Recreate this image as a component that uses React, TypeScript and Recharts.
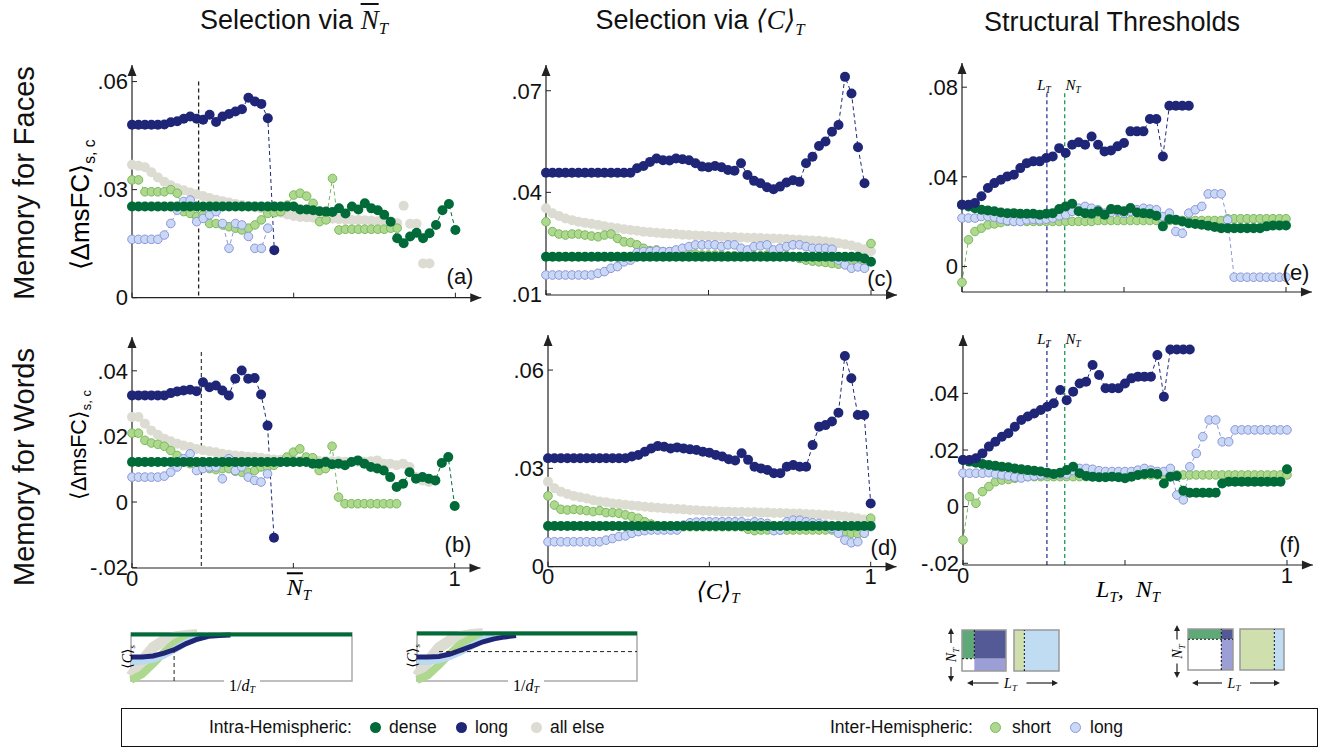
import React from 'react'
import { ComposedChart, Line, XAxis, YAxis, ReferenceLine, ReferenceDot, ReferenceArea } from 'recharts'

const SANS = '"Liberation Sans", Arial, Helvetica, sans-serif'
const SERIF = '"Liberation Serif", "DejaVu Serif", "Times New Roman", serif'

const COL = {
  dense: '#006b38',
  long: '#1f2677',
  allElse: '#dcdcd2',
  shortFill: '#aed88e',
  shortEdge: '#79b85e',
  ilongFill: '#c9d8f4',
  ilongEdge: '#8d95d9',
}

// threshold grid shared by the six panels
const xs = [0, .02, .04, .06, .08, .1, .12, .14, .16, .18, .2, .22, .24, .26, .28, .3, .32, .34, .36, .38, .4, .42, .44, .46, .48, .5,
  .52, .54, .56, .58, .6, .62, .64, .66, .68, .7, .72, .74, .76, .78, .8, .82, .84, .86, .88, .9, .92, .94, .96, .98, 1]

// (a) faces, selection via mean N_T
const aDense = [.0253, .0253, .0253, .0253, .0253, .0253, .0253, .0253, .0253, .0253,
  .0253, .0253, .0253, .0253, .0253, .0253, .0253, .0253, .0253, .0253,
  .0253, .0253, .0253, .0253, .0253, .0253, .0245, .0245, .0243, .024,
  .0239, .0238, .0248, .0234, .0253, .0245, .0262, .0248, .0243, .023,
  .0211, .0165, .0151, .017, .018, .0165, .0179, .0202, .0243, .026, .0188]
const aLong = [.048, .048, .048, .048, .048, .0481, .0487, .049, .0497, .0503,
  .0497, .0494, .0508, .0488, .0503, .051, .0517, .0523, .0555, .0545, .0538, .0498, .0132]
const aAllElse = [.0369, .0366, .0362, .0348, .0334, .0322, .0312, .0304, .0298, .0292,
  .0287, .0282, .0277, .0272, .0268, .0264, .026, .0257, .0254, .0251,
  .0248, .0244, .024, .0236, .0231, .0227, .0224, .0223, .0222, .0221,
  .022, .0219, .0218, .0217, .0216, .0216, .0215, .0214, .0212, .021,
  .0208, .0207, .0255, .0205, .0205, .0095, .0095]
const aShort = [.0327, .0327, .0294, .0294, .0294, .0294, .03, .029, .0239, .0234,
  .0225, .023, .0206, .0206, .0202, .0197, .0193, .0188, .0193, .0202,
  .0216, .0234, .0236, .0239, .0257, .0285, .029, .0282, .0262, .0211,
  .0216, .0331, .0188, .019, .019, .019, .019, .019, .019, .019, .0193, .0193]
const aInterLong = [.0162, .0162, .0162, .0162, .0162, .0174, .0206, .0243, .0267, .0271,
  .0211, .022, .023, .0239, .0206, .0137, .0206, .0202, .017, .0137, .0137, .0193]

// (b) words, selection via mean N_T
const bDense = [.0122, .0122, .0122, .0122, .0122, .0122, .0122, .0122, .0122, .0122,
  .0122, .0122, .0122, .0122, .0122, .0122, .0122, .0122, .0122, .0122,
  .0122, .0122, .0122, .0122, .0122, .0122, .0122, .0122, .0117, .0117,
  .0122, .0115, .0117, .0112, .0122, .0127, .0117, .0107, .0102, .0096,
  .0076, .0046, .0056, .0091, .0071, .0076, .0071, .0066, .0119, .0137, -.0012]
const bLong = [.0325, .0325, .0325, .0325, .0325, .0325, .0332, .0337, .034, .0342,
  .0338, .0365, .035, .0355, .034, .0325, .0376, .0401, .0376, .0378, .0328, .0233, -.0109]
const bAllElse = [.0259, .0259, .0239, .0218, .0205, .0193, .0185, .0178, .0172, .0168,
  .0162, .0158, .0155, .0152, .0147, .0144, .0142, .014, .0138, .0137,
  .0135, .0132, .013, .0129, .0128, .0127, .0126, .0126, .0125, .0125,
  .0125, .0124, .0124, .0123, .0123, .0123, .0123, .0124, .0127, .0117,
  .0117, .0112, .0117, .0107, .0076, .0066, .0061, .0066]
const bShort = [.021, .021, .0188, .018, .0176, .017, .0157, .0142, .0127, .0117,
  .0112, .0107, .0102, .0099, .0102, .0102, .0094, .0091, .0091, .0096,
  .0107, .0107, .0112, .0122, .0137, .0152, .0162, .0137, .0135, .0096,
  .0102, .017, .0015, -.0005, -.0005, -.0005, -.0005, -.0005, -.0005, -.0005, -.0005, -.0005]
const bInterLong = [.0076, .0076, .0076, .0076, .0076, .0079, .0091, .0107, .0132, .0147,
  .0096, .0102, .0107, .0107, .0071, .0132, .0096, .0107, .0076, .0066, .0061, .0086]

// (c) faces, selection via <C>_T
const cDense = [.021, .021, .021, .021, .021, .021, .021, .021, .021, .021,
  .021, .021, .021, .021, .021, .021, .021, .021, .021, .021,
  .021, .021, .021, .021, .021, .021, .021, .021, .021, .021,
  .021, .021, .021, .021, .021, .021, .021, .021, .021, .021,
  .021, .021, .021, .021, .021, .021, .021, .021, .021, .0205, .0195]
const cLong = [.0458, .0458, .0458, .0458, .0458, .0458, .0458, .0458, .0458, .0458,
  .0458, .0458, .0458, .0458, .0471, .0478, .049, .05, .0495, .0494,
  .05, .0498, .0495, .0486, .0476, .0474, .0478, .0474, .0466, .0464,
  .0486, .0451, .0434, .0427, .0415, .0409, .0417, .0429, .0436, .0431,
  .0486, .0505, .0537, .055, .0579, .0599, .0741, .0692, .0533, .0427]
const cAllElse = [.0353, .0338, .033, .0323, .0318, .0313, .031, .0307, .0304, .03,
  .0297, .0294, .0291, .0289, .0287, .0284, .0282, .0281, .0279, .0278,
  .0277, .0275, .0274, .0273, .0272, .0271, .027, .0269, .0268, .0268,
  .0267, .0266, .0266, .0265, .0264, .0264, .0263, .0262, .0261, .026,
  .0259, .0258, .0257, .0255, .0253, .025, .0247, .0243, .0238, .0232, .0226]
const cShort = [.0313, .0284, .0277, .0274, .0277, .0277, .0274, .0271, .0269, .0274,
  .0277, .0264, .0254, .0252, .0245, .0235, .0228, .023, .0225, .0225,
  .0222, .0225, .022, .0218, .0215, .0215, .0215, .0215, .0213, .0213,
  .0215, .0215, .0213, .0213, .0215, .0215, .0213, .0213, .021, .0205,
  .02, .0197, .0195, .0193, .019, .0188, .019, .0188, .0188, .0186, .0249]
const cInterLong = [.0156, .0156, .0156, .0156, .0156, .0156, .0156, .0156, .0161, .0166,
  .0176, .0181, .0195, .02, .0222, .0225, .0225, .0228, .0225, .0225,
  .023, .0235, .024, .0245, .0245, .0245, .0245, .024, .0245, .0245,
  .0235, .023, .024, .0242, .0245, .023, .0235, .024, .0245, .0245,
  .024, .0235, .0235, .0235, .0232, .02, .0186, .0176, .018, .0176]

// (d) words, selection via <C>_T
const dDense = [.0124, .0124, .0124, .0124, .0124, .0124, .0124, .0124, .0124, .0124,
  .0124, .0124, .0124, .0124, .0124, .0124, .0124, .0124, .0124, .0124,
  .0124, .0124, .0124, .0124, .0124, .0124, .0124, .0124, .0124, .0124,
  .0124, .0124, .0124, .0124, .0124, .0124, .0124, .0124, .0124, .0124,
  .0124, .0124, .0124, .0124, .0124, .0124, .0124, .0124, .0124, .0124, .0124]
const dLong = [.0331, .0331, .0331, .0331, .0331, .0331, .0331, .0331, .0331, .0331,
  .0331, .0331, .0331, .0336, .0341, .0351, .0361, .0368, .0366, .0361,
  .0364, .0361, .0358, .0356, .0351, .0348, .0341, .0336, .0328, .0324,
  .0346, .0326, .0305, .03, .0295, .0285, .0285, .0305, .031, .0305,
  .0305, .0371, .0427, .0432, .0443, .047, .0643, .0575, .0463, .0463, .0193]
const dAllElse = [.0259, .0239, .0229, .0222, .0216, .0212, .0208, .0203, .0199, .0197,
  .0193, .0191, .0189, .0187, .0185, .0183, .0181, .018, .0178, .0177,
  .0176, .0175, .0173, .0172, .0171, .017, .0169, .0168, .0168, .0167,
  .0167, .0166, .0166, .0165, .0165, .0164, .0164, .0163, .0162, .0162,
  .0161, .016, .0159, .0158, .0157, .0155, .0153, .0151, .0148, .0144, .0137]
const dShort = [.0216, .0188, .0175, .0173, .0175, .0173, .0171, .0168, .0171, .0165,
  .0165, .0163, .0158, .0153, .0148, .0137, .013, .0122, .0122, .0122,
  .0122, .0122, .0122, .0122, .0122, .0122, .0122, .0122, .0122, .0122,
  .0122, .0114, .011, .0112, .0112, .0112, .0112, .0112, .0112, .0112,
  .0112, .0112, .0112, .0112, .0112, .0112, .0107, .0102, .01, .0102, .0148]
const dInterLong = [.0076, .0076, .0076, .0076, .0076, .0076, .0076, .0076, .0076, .0081,
  .0086, .0092, .0094, .0102, .0107, .011, .0112, .0112, .0112, .0112,
  .0112, .0127, .0134, .0136, .0137, .0137, .0137, .0137, .0137, .0137,
  .0137, .0132, .0137, .0134, .0132, .011, .0112, .0137, .0142, .0142,
  .0137, .0134, .0132, .0127, .0117, .0102, .0081, .0073, .0076, .0102, .0122]

// (e) faces, structural thresholds
const eDense = [.0275, .0268, .026, .0253, .025, .0246, .0241, .0238, .0238, .0235,
  .0235, .0235, .0231, .0235, .0238, .0256, .0268, .028, .0246, .0238,
  .0235, .0246, .0231, .0256, .0253, .0246, .0261, .0241, .0238, .0235,
  .0226, .0179, .0211, .0208, .0201, .0193, .019, .0186, .0182, .0176,
  .0171, .0171, .0171, .0171, .0171, .0171, .0171, .0179, .0183, .0183, .0183]
const eLong = [.0275, .0275, .0283, .0313, .035, .0372, .0387, .0402, .0409, .0439,
  .0461, .0469, .0469, .0484, .0491, .0528, .0506, .0543, .0554, .0543,
  .058, .0543, .0513, .0518, .0536, .0551, .0603, .0603, .0603, .0658,
  .0658, .0491, .0717, .0717, .0717, .0717]
const eAllElse: (number | null)[] = []
const eShort = [-.0071, .0119, .0156, .0171, .0186, .019, .0196, .0201, .0201, .0201,
  .0201, .0201, .0201, .0201, .0201, .0201, .0201, .0201, .0201, .0201,
  .0201, .0205, .0205, .0205, .0205, .0205, .0205, .0205, .0205, .0205,
  .0205, .0205, .0205, .0205, .0205, .0205, .0205, .0205, .0205, .0205,
  .0205, .0213, .0213, .0213, .0213, .0213, .0213, .0213, .0213, .0213, .0213]
const eInterLong = [.0216, .0216, .0216, .0223, .0223, .022, .0211, .0205, .0201, .0201,
  .0208, .0211, .0208, .0211, .0216, .0226, .0231, .0246, .026, .0268,
  .026, .0253, .0238, .0241, .0246, .0238, .0246, .0253, .026, .0256,
  .0253, .0223, .0238, .0156, .0148, .0238, .0253, .0268, .0324, .0324,
  .0324, .0208, -.0048, -.0048, -.0048, -.0048, -.0048, -.0048, -.0048, -.0048, -.0048]

// (f) words, structural thresholds
const fDense = [.0165, .0159, .0155, .0151, .0147, .0144, .0141, .0139, .0135, .0132,
  .0129, .0127, .0124, .012, .0115, .012, .0129, .0141, .0118, .0108,
  .0106, .0104, .0104, .0106, .0104, .01, .0106, .0112, .0115, .0118,
  .0115, .0082, .0106, .0108, .0056, .0049, .0049, .0049, .0049, .0049,
  .0082, .0088, .0088, .0088, .0088, .0088, .0088, .0088, .0088, .0088, .0132]
const fLong = [.0165, .0165, .0171, .0188, .0212, .0229, .0247, .0259, .0282, .0306,
  .0318, .0329, .0341, .0353, .0365, .0412, .0376, .0406, .0435, .0441,
  .05, .0465, .0418, .0418, .0418, .0435, .0453, .0459, .0459, .0459,
  .0535, .0388, .0555, .0555, .0555, .0555]
const fAllElse: (number | null)[] = []
const fShort = [-.0118, .0035, .0012, .0053, .0071, .0088, .0094, .0096, .01, .0106,
  .0106, .0106, .0106, .0106, .0106, .0106, .0106, .0106, .0106, .0106,
  .0106, .0112, .0112, .0112, .0112, .0112, .0112, .0112, .0112, .0112,
  .0112, .0112, .0112, .0112, .0112, .0112, .0112, .0112, .0112, .0112,
  .0112, .0112, .0112, .0112, .0112, .0112, .0112, .0112, .0112, .0112, .0112]
const fInterLong = [.0118, .0118, .0118, .0118, .012, .0115, .0112, .0108, .0104, .0101,
  .0106, .0108, .0112, .0115, .0115, .0115, .0115, .0127, .0135, .0135,
  .0132, .0127, .0124, .0124, .0124, .0124, .0124, .0129, .0135, .0129,
  .0124, .0124, .0135, .0041, .0024, .0141, .0188, .0247, .0306, .0306,
  .0229, .0229, .0271, .0271, .0271, .0271, .0271, .0271, .0271, .0271, .0271]

// schematic insets under the first two columns (<C>_s against 1/d_T)
const insetX = [0, .05, .1, .15, .2, .25, .3, .35, .4, .45, 1]
const lDense = [.97, .97, .97, .97, .97, .97, .97, .97, .97, .97, .97]
const lLong = [.5, .5, .52, .58, .66, .78, .87, .93, .95, .96, null]
const lInterLong = [.4, .41, .45, .54, .66, .8, .9, .95, null, null, null]
const lAllElse = [.1, .42, .7, .85, .92, .95, .97, null, null, null, null]
const lShort = [.02, .14, .36, .6, .8, .9, .95, null, null, null, null]
const mDense = [.97, .97, .97, .97, .97, .97, .97, .97, .97, .97, .97]
const mLong = [.49, .49, .5, .55, .63, .71, .8, .86, .9, .93, null]
const mInterLong = [.4, .4, .43, .5, .6, .72, .84, .92, null, null, null]
const mAllElse = [.1, .4, .68, .83, .91, .95, .97, null, null, null, null]
const mShort = [.02, .12, .33, .56, .76, .88, .94, null, null, null, null]

// threshold schematics (fractions of each square)
const sqFacesA = [
  { x1: 0, x2: .28, y1: .3, y2: 1, fill: '#5fa878' },
  { x1: .28, x2: 1, y1: .3, y2: 1, fill: '#535a96' },
  { x1: 0, x2: .28, y1: 0, y2: .3, fill: '#ffffff' },
  { x1: .28, x2: 1, y1: 0, y2: .3, fill: '#9c9fd6' },
]
const sqFacesADash = [{ x1: .28, y1: 1, x2: .28, y2: .3 }, { x1: 0, y1: .3, x2: .28, y2: .3 }]
const sqFacesB = [
  { x1: 0, x2: .23, y1: 0, y2: 1, fill: '#cfe0ae' },
  { x1: .23, x2: 1, y1: 0, y2: 1, fill: '#bfdcf3' },
]
const sqFacesBDash = [{ x1: .23, y1: 0, x2: .23, y2: 1 }]
const sqWordsA = [
  { x1: 0, x2: .74, y1: .75, y2: 1, fill: '#5fa878' },
  { x1: .74, x2: 1, y1: .75, y2: 1, fill: '#535a96' },
  { x1: 0, x2: .74, y1: 0, y2: .75, fill: '#ffffff' },
  { x1: .74, x2: 1, y1: 0, y2: .75, fill: '#9c9fd6' },
]
const sqWordsADash = [{ x1: 0, y1: .75, x2: 1, y2: .75 }, { x1: .74, y1: 0, x2: .74, y2: 1 }]
const sqWordsB = [
  { x1: 0, x2: .78, y1: 0, y2: 1, fill: '#cfe0ae' },
  { x1: .78, x2: 1, y1: 0, y2: 1, fill: '#bfdcf3' },
]
const sqWordsBDash = [{ x1: .78, y1: 0, x2: .78, y2: 1 }]
// corner points that span each square's unit frame
const sqFrame = [{ x: 0, y: 0 }, { x: 1, y: 1 }]

type S = (number | null)[]
type VLine = { x: number; y1: number; y2: number; color: string }

const XMAX = 1.08
const YW = 70
const MT = 12
const MR = 14
const XH = 40

const fmtY = (v: number) => (v === 0 ? '0' : (v < 0 ? '-' : '') + Math.abs(v).toFixed(2).replace(/^0/, ''))

const UpArrow = (p: any) => (
  <path d={`M${p.cx - 4.5},${p.cy + 11} L${p.cx},${p.cy} L${p.cx + 4.5},${p.cy + 11} Z`} fill="#222" />
)
const RightArrow = (p: any) => (
  <path d={`M${p.cx - 11},${p.cy - 4.5} L${p.cx},${p.cy} L${p.cx - 11},${p.cy + 4.5} Z`} fill="#222" />
)

function Panel(p: {
  x0: number; top: number; ppu: number; plotH: number; yDomain: [number, number]; yTicks: number[]
  xLabels: boolean; dense: S; long: S; allElse: S; short: S; interLong: S; vlines?: VLine[]
}) {
  const plotW = p.ppu * XMAX
  const rows = xs.map((x, i) => ({
    x,
    dense: p.dense[i] ?? null,
    long: p.long[i] ?? null,
    allElse: p.allElse[i] ?? null,
    short: p.short[i] ?? null,
    interLong: p.interLong[i] ?? null,
  }))
  const tick = { fontSize: 22, fill: '#111', fontFamily: SANS }
  const ax = { stroke: '#222', strokeWidth: 1.2 }
  return (
    <div style={{ position: 'absolute', left: p.x0 - YW, top: p.top - MT }}>
      <ComposedChart width={YW + plotW + MR} height={MT + p.plotH + XH} data={rows}
        margin={{ top: MT, right: MR, bottom: 0, left: 0 }}>
        <XAxis dataKey="x" type="number" domain={[0, XMAX]} ticks={[0, 0.5, 1]} interval={0} height={XH}
          tickFormatter={(v: number) => (p.xLabels && v !== 0.5 ? String(v) : '')}
          tickSize={-5} tickMargin={7} tick={tick} axisLine={ax} tickLine={{ stroke: '#222' }} />
        <YAxis type="number" domain={p.yDomain} ticks={p.yTicks} interval={0} width={YW} tickFormatter={fmtY}
          tickSize={-5} tickMargin={9} tick={tick} axisLine={ax} tickLine={{ stroke: '#222' }} />
        {(p.vlines || []).map((v, i) => (
          <ReferenceLine key={i} segment={[{ x: v.x, y: v.y1 }, { x: v.x, y: v.y2 }]} stroke={v.color}
            strokeDasharray="4 3" strokeWidth={1.3} ifOverflow="visible" />
        ))}
        <Line dataKey="allElse" stroke="none" isAnimationActive={false} activeDot={false}
          dot={{ r: 5, fill: COL.allElse, stroke: 'none', strokeDasharray: 'none' }} />
        <Line dataKey="short" stroke={COL.shortEdge} strokeWidth={1} strokeDasharray="4 3" isAnimationActive={false} activeDot={false}
          dot={{ r: 4.3, fill: COL.shortFill, stroke: COL.shortEdge, strokeWidth: 1, strokeDasharray: 'none' }} />
        <Line dataKey="interLong" stroke={COL.ilongEdge} strokeWidth={1} strokeDasharray="4 3" isAnimationActive={false} activeDot={false}
          dot={{ r: 4.3, fill: COL.ilongFill, stroke: COL.ilongEdge, strokeWidth: 1, strokeDasharray: 'none' }} />
        <Line dataKey="dense" stroke={COL.dense} strokeWidth={1} strokeDasharray="4 3" isAnimationActive={false} activeDot={false}
          dot={{ r: 5, fill: COL.dense, stroke: 'none', strokeDasharray: 'none' }} />
        <Line dataKey="long" stroke={COL.long} strokeWidth={1} strokeDasharray="4 3" isAnimationActive={false} activeDot={false}
          dot={{ r: 5, fill: COL.long, stroke: 'none', strokeDasharray: 'none' }} />
        <ReferenceDot x={0} y={p.yDomain[1]} r={0} ifOverflow="visible" shape={UpArrow} />
        <ReferenceDot x={XMAX} y={p.yDomain[0]} r={0} ifOverflow="visible" shape={RightArrow} />
      </ComposedChart>
    </div>
  )
}

function CurveInset(p: {
  left: number; top: number; w: number; h: number; dense: S; long: S; interLong: S; allElse: S; short: S
  vdash?: { x: number; y1: number; y2: number }; hdash?: { y: number; x1: number; x2: number }
}) {
  const rows = insetX.map((x, i) => ({
    x, dense: p.dense[i], long: p.long[i], interLong: p.interLong[i], allElse: p.allElse[i], short: p.short[i],
  }))
  const m = 6
  return (
    <div style={{ position: 'absolute', left: p.left - m, top: p.top - m }}>
      <ComposedChart width={p.w + 2 * m} height={p.h + 2 * m} data={rows} margin={{ top: m, right: m, bottom: m, left: m }}>
        <XAxis type="number" dataKey="x" domain={[0, 1]} hide />
        <YAxis type="number" domain={[0, 1]} hide />
        <ReferenceArea x1={0} x2={1} y1={0} y2={1} fill="none" stroke="#aaa" strokeWidth={1.5} />
        <Line dataKey="allElse" stroke={COL.allElse} strokeWidth={11} dot={false} activeDot={false} isAnimationActive={false} />
        <Line dataKey="short" stroke={COL.shortFill} strokeWidth={8} dot={false} activeDot={false} isAnimationActive={false} />
        <Line dataKey="interLong" stroke="#bcd9f2" strokeWidth={7} dot={false} activeDot={false} isAnimationActive={false} />
        <Line dataKey="long" stroke={COL.long} strokeWidth={5} dot={false} activeDot={false} isAnimationActive={false} />
        <Line dataKey="dense" stroke={COL.dense} strokeWidth={4} dot={false} activeDot={false} isAnimationActive={false} />
        {p.vdash && (
          <ReferenceLine segment={[{ x: p.vdash.x, y: p.vdash.y1 }, { x: p.vdash.x, y: p.vdash.y2 }]} stroke="#222" strokeDasharray="4 3" />
        )}
        {p.hdash && (
          <ReferenceLine segment={[{ x: p.hdash.x1, y: p.hdash.y }, { x: p.hdash.x2, y: p.hdash.y }]} stroke="#222" strokeDasharray="4 3" />
        )}
      </ComposedChart>
    </div>
  )
}

type Cell = { x1: number; x2: number; y1: number; y2: number; fill: string }
type Dash = { x1: number; y1: number; x2: number; y2: number }

function SquareInset(p: { left: number; top: number; w: number; h: number; cells: Cell[]; dashes: Dash[] }) {
  return (
    <div style={{ position: 'absolute', left: p.left - 1, top: p.top - 1 }}>
      <ComposedChart width={p.w + 2} height={p.h + 2} data={sqFrame} margin={{ top: 1, right: 1, bottom: 1, left: 1 }}>
        <XAxis type="number" dataKey="x" domain={[0, 1]} hide />
        <YAxis type="number" dataKey="y" domain={[0, 1]} hide />
        <Line dataKey="y" stroke="none" dot={false} activeDot={false} isAnimationActive={false} />
        {p.cells.map((c, i) => (
          <ReferenceArea key={i} x1={c.x1} x2={c.x2} y1={c.y1} y2={c.y2} fill={c.fill} fillOpacity={1} stroke="none" ifOverflow="visible" />
        ))}
        {p.dashes.map((d, i) => (
          <ReferenceLine key={'d' + i} segment={[{ x: d.x1, y: d.y1 }, { x: d.x2, y: d.y2 }]} stroke="#111" strokeDasharray="2 2" ifOverflow="visible" />
        ))}
        <ReferenceArea x1={0} x2={1} y1={0} y2={1} fill="none" stroke="#999" strokeWidth={1.5} ifOverflow="visible" />
      </ComposedChart>
    </div>
  )
}

function Arrows(p: { vx: number; vy1: number; vy2: number; hy: number; hx1: number; hx2: number }) {
  const vm = (p.vy1 + p.vy2) / 2
  const hm = (p.hx1 + p.hx2) / 2
  const head = '#222'
  return (
    <svg style={{ position: 'absolute', left: 0, top: 0, overflow: 'visible' }} width={1} height={1}>
      <line x1={p.vx} y1={p.vy1 + 4} x2={p.vx} y2={vm - 12} stroke={head} strokeWidth={1.2} />
      <path d={`M${p.vx - 3},${p.vy1 + 6} L${p.vx},${p.vy1} L${p.vx + 3},${p.vy1 + 6} Z`} fill={head} />
      <line x1={p.vx} y1={vm + 12} x2={p.vx} y2={p.vy2 - 4} stroke={head} strokeWidth={1.2} />
      <path d={`M${p.vx - 3},${p.vy2 - 6} L${p.vx},${p.vy2} L${p.vx + 3},${p.vy2 - 6} Z`} fill={head} />
      <text x={p.vx + 5} y={vm} transform={`rotate(-90 ${p.vx + 5} ${vm})`} textAnchor="middle" fontFamily={SERIF}
        fontStyle="italic" fontSize={14}>N<tspan fontSize={9} dy={3}>T</tspan></text>
      <line x1={p.hx1 + 4} y1={p.hy} x2={hm - 14} y2={p.hy} stroke={head} strokeWidth={1.2} />
      <path d={`M${p.hx1 + 6},${p.hy - 3} L${p.hx1},${p.hy} L${p.hx1 + 6},${p.hy + 3} Z`} fill={head} />
      <line x1={hm + 14} y1={p.hy} x2={p.hx2 - 4} y2={p.hy} stroke={head} strokeWidth={1.2} />
      <path d={`M${p.hx2 - 6},${p.hy - 3} L${p.hx2},${p.hy} L${p.hx2 - 6},${p.hy + 3} Z`} fill={head} />
      <text x={hm - 2} y={p.hy + 5} textAnchor="middle" fontFamily={SERIF} fontStyle="italic" fontSize={14}>
        L<tspan fontSize={9} dy={3}>T</tspan></text>
    </svg>
  )
}

const abs = (x: number, y: number, extra: React.CSSProperties = {}): React.CSSProperties => ({
  position: 'absolute', left: x, top: y, transform: 'translate(-50%,-50%)', whiteSpace: 'nowrap', ...extra,
})
const rot = (x: number, y: number, extra: React.CSSProperties = {}): React.CSSProperties => ({
  position: 'absolute', left: x, top: y, transform: 'translate(-50%,-50%) rotate(-90deg)', whiteSpace: 'nowrap', ...extra,
})
const math: React.CSSProperties = { fontFamily: SERIF, fontStyle: 'italic' }
const sub: React.CSSProperties = { fontSize: '0.62em', verticalAlign: '-0.3em' }

function Dot({ x, fill, edge }: { x: number; fill: string; edge?: string }) {
  return (
    <span style={{
      position: 'absolute', left: x - 5.5, top: 722, width: 11, height: 11, borderRadius: '50%', background: fill,
      boxSizing: 'border-box', border: edge ? `1px solid ${edge}` : 'none',
    }} />
  )
}

export default function App() {
  const title: React.CSSProperties = { fontFamily: SANS, fontSize: 27, color: '#111' }
  const rowLab: React.CSSProperties = { fontFamily: SANS, fontSize: 29, color: '#111' }
  const letter: React.CSSProperties = { fontFamily: SANS, fontSize: 22, color: '#111' }
  const leg: React.CSSProperties = { position: 'absolute', top: 717, fontFamily: SANS, fontSize: 17.5, lineHeight: '20px', color: '#111' }
  return (
    <div style={{ position: 'relative', width: 1325, height: 753, background: '#fff', overflow: 'hidden' }}>
      <style>{'body{margin:0}'}</style>

      <div style={abs(294, 22, title)}>Selection via <span style={math}><span style={{ textDecoration: 'overline' }}>N</span><span style={sub}>T</span></span></div>
      <div style={abs(700, 22, title)}>Selection via <span style={math}>⟨C⟩<span style={sub}>T</span></span></div>
      <div style={abs(1112, 22, title)}>Structural Thresholds</div>

      <div style={rot(24, 183, rowLab)}>Memory for Faces</div>
      <div style={rot(24, 467, rowLab)}>Memory for Words</div>

      <div style={rot(82, 205, { fontFamily: SANS, fontSize: 26 })}>⟨ΔmsFC⟩<span style={{ fontSize: '0.6em', verticalAlign: '-0.35em' }}>s, c</span></div>
      <div style={rot(80, 445, { fontFamily: SANS, fontSize: 21.5 })}>⟨ΔmsFC⟩<span style={{ fontSize: '0.6em', verticalAlign: '-0.35em' }}>s, c</span></div>

      <Panel x0={132.3} top={65} ppu={323.4} plotH={232.7} yDomain={[0, 0.0646]} yTicks={[0, 0.03, 0.06]} xLabels={false}
        dense={aDense} long={aLong} allElse={aAllElse} short={aShort} interLong={aInterLong}
        vlines={[{ x: 0.206, y1: 0.06, y2: 0, color: '#222' }]} />
      <Panel x0={132.3} top={336.7} ppu={322.7} plotH={231} yDomain={[-0.0201, 0.0503]} yTicks={[-0.02, 0, 0.02, 0.04]} xLabels
        dense={bDense} long={bLong} allElse={bAllElse} short={bShort} interLong={bInterLong}
        vlines={[{ x: 0.215, y1: 0.0457, y2: -0.0201, color: '#444' }]} />
      <Panel x0={546} top={65} ppu={325} plotH={230} yDomain={[0.0097, 0.0776]} yTicks={[0.01, 0.04, 0.07]} xLabels={false}
        dense={cDense} long={cLong} allElse={cAllElse} short={cShort} interLong={cInterLong} />
      <Panel x0={548.3} top={335} ppu={322.7} plotH={231.7} yDomain={[0, 0.0707]} yTicks={[0, 0.03, 0.06]} xLabels
        dense={dDense} long={dLong} allElse={dAllElse} short={dShort} interLong={dInterLong} />
      <Panel x0={961.7} top={63.3} ppu={324} plotH={229} yDomain={[-0.0114, 0.0908]} yTicks={[0, 0.04, 0.08]} xLabels={false}
        dense={eDense} long={eLong} allElse={eAllElse} short={eShort} interLong={eInterLong}
        vlines={[{ x: 0.262, y1: 0.0773, y2: -0.0114, color: '#2b3a9a' }, { x: 0.317, y1: 0.0773, y2: -0.0114, color: '#1a9a50' }]} />
      <Panel x0={962.7} top={335} ppu={324} plotH={230} yDomain={[-0.0206, 0.0606]} yTicks={[-0.02, 0, 0.02, 0.04]} xLabels
        dense={fDense} long={fLong} allElse={fAllElse} short={fShort} interLong={fInterLong}
        vlines={[{ x: 0.259, y1: 0.0574, y2: -0.0206, color: '#2b3a9a' }, { x: 0.314, y1: 0.0574, y2: -0.0206, color: '#1a9a50' }]} />

      <div style={abs(1044, 86, { ...math, fontSize: 15 })}>L<span style={sub}>T</span></div>
      <div style={abs(1073, 86, { ...math, fontSize: 15 })}>N<span style={sub}>T</span></div>
      <div style={abs(1044, 340, { ...math, fontSize: 15 })}>L<span style={sub}>T</span></div>
      <div style={abs(1073, 340, { ...math, fontSize: 15 })}>N<span style={sub}>T</span></div>

      <div style={abs(460, 277, letter)}>(a)</div>
      <div style={abs(458, 545, letter)}>(b)</div>
      <div style={abs(880, 279, letter)}>(c)</div>
      <div style={abs(884, 548, letter)}>(d)</div>
      <div style={abs(1296, 273, letter)}>(e)</div>
      <div style={abs(1290, 545, letter)}>(f)</div>

      <div style={abs(299, 589, { ...math, fontSize: 24 })}><span style={{ textDecoration: 'overline' }}>N</span><span style={sub}>T</span></div>
      <div style={abs(718, 592, { ...math, fontSize: 24 })}>⟨C⟩<span style={sub}>T</span></div>
      <div style={abs(1128, 591, { ...math, fontSize: 24 })}>L<span style={sub}>T</span>,&nbsp; N<span style={sub}>T</span></div>

      <CurveInset left={131} top={633} w={221} h={48} dense={lDense} long={lLong} interLong={lInterLong} allElse={lAllElse} short={lShort}
        vdash={{ x: 0.195, y1: 0, y2: 0.7 }} />
      <CurveInset left={417} top={632} w={220} h={49} dense={mDense} long={mLong} interLong={mInterLong} allElse={mAllElse} short={mShort}
        hdash={{ y: 0.6, x1: 0.1, x2: 1 }} />
      <div style={abs(242, 686, { fontFamily: SERIF, fontSize: 16, background: '#fff', padding: '0 5px' })}>1/<i>d</i><span style={{ ...sub, fontStyle: 'italic' }}>T</span></div>
      <div style={abs(526, 686, { fontFamily: SERIF, fontSize: 16, background: '#fff', padding: '0 5px' })}>1/<i>d</i><span style={{ ...sub, fontStyle: 'italic' }}>T</span></div>
      <div style={rot(128, 657, { fontFamily: SERIF, fontSize: 14 })}>⟨<i>C</i>⟩<span style={sub}>s</span></div>
      <div style={rot(413, 656, { fontFamily: SERIF, fontSize: 14 })}>⟨<i>C</i>⟩<span style={sub}>s</span></div>

      <SquareInset left={962} top={630} w={44} h={41} cells={sqFacesA} dashes={sqFacesADash} />
      <SquareInset left={1014} top={630} w={45} h={41} cells={sqFacesB} dashes={sqFacesBDash} />
      <SquareInset left={1188} top={629} w={45} h={41} cells={sqWordsA} dashes={sqWordsADash} />
      <SquareInset left={1240} top={629} w={44} h={41} cells={sqWordsB} dashes={sqWordsBDash} />
      <Arrows vx={951} vy1={628} vy2={682} hy={683} hx1={967} hx2={1058} />
      <Arrows vx={1177} vy1={625} vy2={678} hy={683} hx1={1192} hx2={1280} />

      <div style={{ position: 'absolute', left: 121, top: 708, width: 1197, height: 39, border: '1.5px solid #111', boxSizing: 'border-box' }} />
      <span style={{ ...leg, left: 209 }}>Intra-Hemispheric:</span>
      <Dot x={375} fill={COL.dense} />
      <span style={{ ...leg, left: 389 }}>dense</span>
      <Dot x={461} fill={COL.long} />
      <span style={{ ...leg, left: 475 }}>long</span>
      <Dot x={536} fill={COL.allElse} />
      <span style={{ ...leg, left: 550 }}>all else</span>
      <span style={{ ...leg, left: 830 }}>Inter-Hemispheric:</span>
      <Dot x={995} fill={COL.shortFill} edge={COL.shortEdge} />
      <span style={{ ...leg, left: 1012 }}>short</span>
      <Dot x={1075} fill={COL.ilongFill} edge={COL.ilongEdge} />
      <span style={{ ...leg, left: 1090 }}>long</span>
    </div>
  )
}
